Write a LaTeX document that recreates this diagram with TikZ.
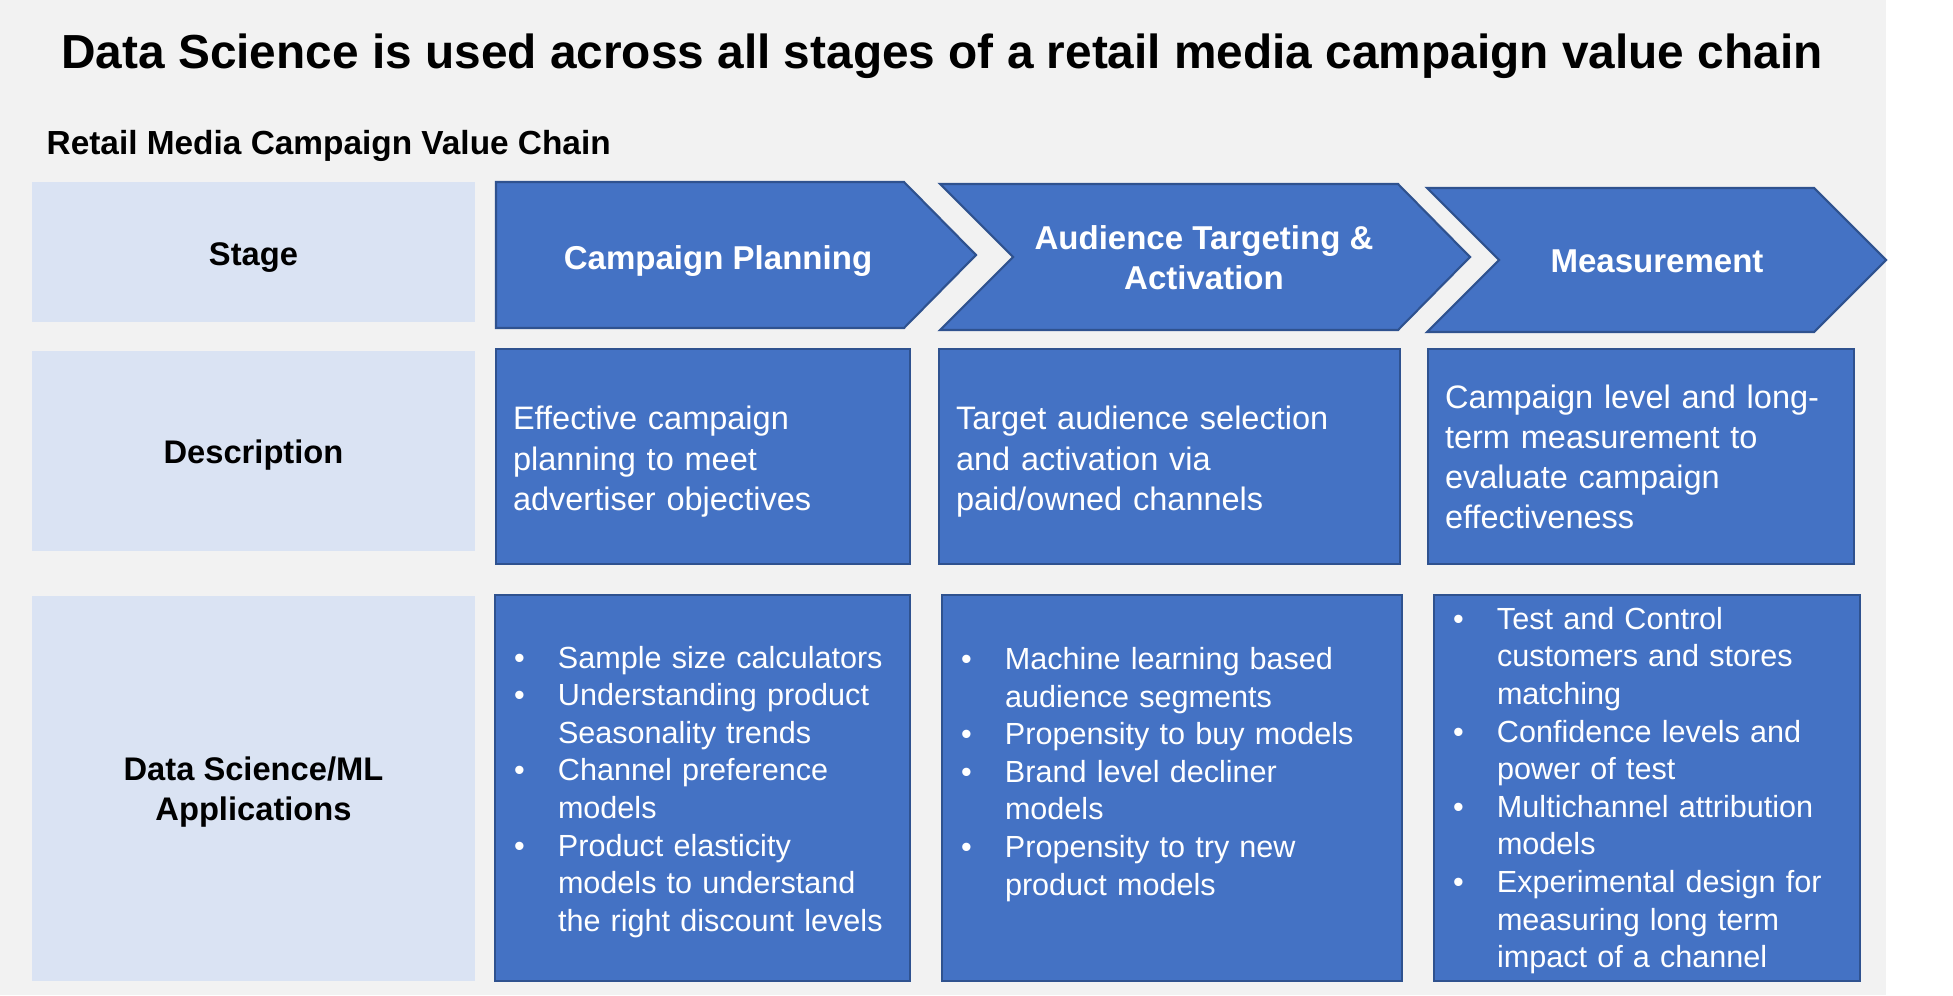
\documentclass[tikz,border=0pt]{standalone}
\usepackage{fontspec}
\setmainfont{Liberation Sans}
\usepackage{tikz}
\usetikzlibrary{positioning}
\definecolor{backgrey}{RGB}{242,242,242}
\definecolor{labelblue}{RGB}{218,227,243}
\definecolor{chainblue}{RGB}{68,114,196}
\definecolor{edgeblue}{RGB}{47,82,143}
\newcommand{\appbullet}{\makebox[4.4mm][l]{\textbullet}}
\newcommand{\appindent}{\makebox[4.4mm]{}}

\begin{document}
\begin{tikzpicture}[x=0.1mm, y=-0.1mm,
    rowlabel/.style={fill=labelblue, font=\bfseries\fontsize{9.3}{11.4}\selectfont, align=center, minimum width=44.3mm, inner sep=0pt},
    chevron/.style={fill=chainblue, draw=edgeblue, line width=0.6pt},
    stagetext/.style={text=white, font=\bfseries\fontsize{9.4}{11.4}\selectfont, align=center, inner sep=0pt},
    descbox/.style={fill=chainblue, draw=edgeblue, line width=0.6pt, text=white, font=\fontsize{9.25}{11.4}\selectfont, align=left, inner xsep=1.7mm, inner ysep=0pt, minimum height=21.5mm},
    appbox/.style={fill=chainblue, draw=edgeblue, line width=0.6pt, text=white, font=\fontsize{8.7}{10.7}\selectfont, align=left, inner xsep=1.9mm, inner ysep=0pt, minimum height=38.6mm}]
    \useasboundingbox (0,0) rectangle (1953,995);
    \fill[backgrey] (0,0) rectangle (1886,995);

    % headings
    \node[anchor=base, inner sep=0pt, font=\bfseries\fontsize{13.6}{16}\selectfont] (title) at (942,68) {Data Science is used across all stages of a retail media campaign value chain};
    \node[anchor=base west, inner sep=0pt, font=\bfseries\fontsize{9.5}{11}\selectfont] (chain) at (46,154) {Retail Media Campaign Value Chain};

    % left column
    \node[rowlabel, minimum height=14mm, text height=9.4pt] (stage) at (253.5,252) {Stage};
    \node[rowlabel, minimum height=20mm, text height=9pt] (desc) at (253.5,451) {Description};
    \node[rowlabel, minimum height=38.5mm, text height=20.2pt] (apps) at (253.5,788.5) {Data Science/ML\\Applications};

    % stages
    \draw[chevron] (496,182) -- (904,182) -- (976,255) -- (904,328) -- (496,328) -- cycle;
    \draw[chevron] (940,184) -- (1398,184) -- (1470,257) -- (1398,330) -- (940,330) -- (1013,257) -- cycle;
    \draw[chevron] (1427,188) -- (1814,188) -- (1886,260) -- (1814,332) -- (1427,332) -- (1499,260) -- cycle;
    \node[stagetext] (plan) at (718,261) {Campaign Planning};
    \node[stagetext] (target) at (1204,258) {Audience Targeting \&\\Activation};
    \node[stagetext] (measure) at (1657,261) {Measurement};

    % descriptions
    \node[descbox, text width=38mm, text height=9.6pt] (plandesc) at (703,456.5) {Effective campaign\\planning to meet\\advertiser objectives};
    \node[descbox, text width=42.7mm, text height=9.6pt] (targetdesc) at (1169.5,456.5) {Target audience selection\\and activation via\\paid/owned channels};
    \node[descbox, text width=39.2mm] (measuredesc) at (1641,456.5) {Campaign level and long-\\term measurement to\\evaluate campaign\\effectiveness};

    % applications
    \node[appbox, text width=37.7mm, text height=8.5pt] (planapps) at (702.5,788) {\appbullet Sample size calculators\\\appbullet Understanding product\\\appindent Seasonality trends\\\appbullet Channel preference\\\appindent models\\\appbullet Product elasticity\\\appindent models to understand\\\appindent the right discount levels};
    \node[appbox, text width=42.2mm, text height=7.4pt] (targetapps) at (1172,788) {\appbullet Machine learning based\\\appindent audience segments\\\appbullet Propensity to buy models\\\appbullet Brand level decliner\\\appindent models\\\appbullet Propensity to try new\\\appindent product models\\\mbox{}};
    \node[appbox, text width=38.8mm, text height=7.8pt] (measureapps) at (1647,788) {\appbullet Test and Control\\\appindent customers and stores\\\appindent matching\\\appbullet Confidence levels and\\\appindent power of test\\\appbullet Multichannel attribution\\\appindent models\\\appbullet Experimental design for\\\appindent measuring long term\\\appindent impact of a channel};
\end{tikzpicture}
\end{document}
